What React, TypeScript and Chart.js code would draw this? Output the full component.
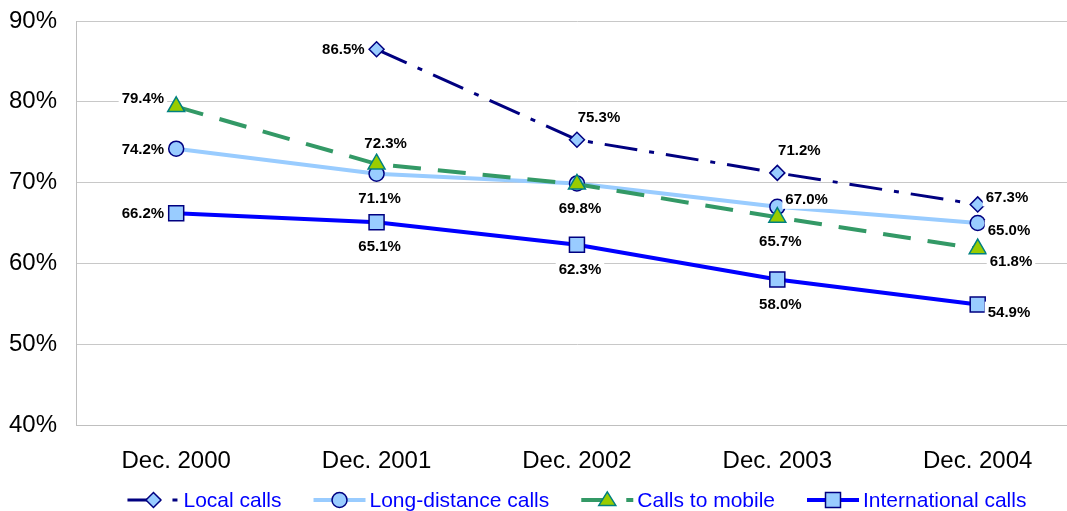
import React, { useEffect, useRef } from 'react';
import { Chart, registerables } from 'chart.js';

Chart.register(...registerables);

// ---- data ----
const categories = ['Dec. 2000', 'Dec. 2001', 'Dec. 2002', 'Dec. 2003', 'Dec. 2004'];
const seriesNames = ['Local calls', 'Long-distance calls', 'Calls to mobile', 'International calls'];
const localCalls = [null, 86.5, 75.3, 71.2, 67.3];
const longDistanceCalls = [74.2, 71.1, 69.9, 67.0, 65.0];
const callsToMobile = [79.4, 72.3, 69.8, 65.7, 61.8];
const internationalCalls = [66.2, 65.1, 62.3, 58.0, 54.9];
const yMin = 40;
const yMax = 90;
const yStep = 10;

// label placement (style config, not data)
const localPlacement = [null, 'left', 'aboveRight', 'aboveRight', 'rightUp'];
const longPlacement = ['left', 'below', null, 'rightUp', 'rightDown'];
const mobilePlacement = ['leftUp', 'above', 'below', 'below', 'rightDown2'];
const intlPlacement = ['left', 'below', 'below', 'below', 'rightDown'];

const FONT = '"Liberation Sans", Arial, sans-serif';

type Marker = { shape: string; r: number; fill: string; stroke: string; bw: number };

const styles = [
  { color: '#000080', width: 3, dash: [33, 12, 5, 12], marker: { shape: 'diamond', r: 7.5, fill: '#99CCFF', stroke: '#000080', bw: 1.5 } },
  { color: '#99CCFF', width: 4, dash: [], marker: { shape: 'circle', r: 7.5, fill: '#99CCFF', stroke: '#000080', bw: 1.5 } },
  { color: '#339966', width: 4, dash: [28, 17], marker: { shape: 'triangle', r: 8.5, fill: '#99CC00', stroke: '#008080', bw: 1.5 } },
  { color: '#0000FF', width: 4, dash: [], marker: { shape: 'square', r: 7.5, fill: '#99CCFF', stroke: '#000080', bw: 1.5 } },
];

function drawMarker(ctx: CanvasRenderingContext2D, m: Marker, x: number, y: number) {
  ctx.save();
  ctx.setLineDash([]);
  ctx.fillStyle = m.fill;
  ctx.strokeStyle = m.stroke;
  ctx.lineWidth = m.bw;
  ctx.beginPath();
  const r = m.r;
  if (m.shape === 'diamond') {
    ctx.moveTo(x, y - r);
    ctx.lineTo(x + r, y);
    ctx.lineTo(x, y + r);
    ctx.lineTo(x - r, y);
    ctx.closePath();
  } else if (m.shape === 'circle') {
    ctx.arc(x, y, r, 0, Math.PI * 2);
  } else if (m.shape === 'triangle') {
    const h = r * 1.6;
    ctx.moveTo(x, y - h * 0.6);
    ctx.lineTo(x + r, y + h * 0.4);
    ctx.lineTo(x - r, y + h * 0.4);
    ctx.closePath();
  } else {
    ctx.rect(x - r, y - r, r * 2, r * 2);
  }
  ctx.fill();
  ctx.stroke();
  ctx.restore();
}

const placements: Record<string, { dx: number; dy: number; align: CanvasTextAlign }> = {
  left: { dx: -12, dy: 0, align: 'right' },
  leftUp: { dx: -12, dy: -9, align: 'right' },
  below: { dx: 3, dy: 24, align: 'center' },
  above: { dx: 9, dy: -21, align: 'center' },
  aboveRight: { dx: 22, dy: -23, align: 'center' },
  rightUp: { dx: 8, dy: -8, align: 'left' },
  rightDown: { dx: 10, dy: 7, align: 'left' },
  rightDown2: { dx: 12, dy: 12, align: 'left' },
};

const allPlacements = [localPlacement, longPlacement, mobilePlacement, intlPlacement];

const markerPlugin = {
  id: 'markersAndLabels',
  afterDatasetsDraw(chart: any) {
    const ctx = chart.ctx as CanvasRenderingContext2D;
    const drawOrder = [3, 1, 2, 0];
    ctx.save();
    ctx.font = `bold 15px ${FONT}`;
    ctx.textBaseline = 'middle';
    drawOrder.forEach((di) => {
      const meta = chart.getDatasetMeta(di);
      const data = chart.data.datasets[di].data;
      meta.data.forEach((pt: any, i: number) => {
        const v = data[i];
        const p = allPlacements[di][i];
        if (v == null || !p) return;
        const pl = placements[p];
        const text = v.toFixed(1) + '%';
        const w = ctx.measureText(text).width;
        const x = pt.x + pl.dx;
        const y = pt.y + pl.dy;
        let left = x;
        if (pl.align === 'right') left = x - w;
        else if (pl.align === 'center') left = x - w / 2;
        ctx.fillStyle = '#FFFFFF';
        ctx.fillRect(left - 3, y - 10, w + 6, 20);
        ctx.fillStyle = '#000000';
        ctx.textAlign = pl.align;
        ctx.fillText(text, x, y + 1);
      });
    });
    ctx.restore();
  },
  afterDraw(chart: any) {
    const ctx = chart.ctx as CanvasRenderingContext2D;
    const area = chart.chartArea;
    ctx.save();
    ctx.font = `21px ${FONT}`;
    ctx.textBaseline = 'middle';
    const sampleW = 52;
    const gapText = 4;
    const itemGap = 32;
    const widths = seriesNames.map((n) => ctx.measureText(n).width);
    const total = widths.reduce((a, b) => a + b, 0) + seriesNames.length * (sampleW + gapText) + (seriesNames.length - 1) * itemGap;
    let x = (area.left + area.right) / 2 - total / 2;
    const y = 500;
    seriesNames.forEach((name, i) => {
      const s = styles[i];
      ctx.save();
      ctx.strokeStyle = s.color;
      ctx.lineWidth = s.width;
      ctx.setLineDash(s.dash);
      ctx.beginPath();
      ctx.moveTo(x, y);
      ctx.lineTo(x + sampleW, y);
      ctx.stroke();
      ctx.restore();
      drawMarker(ctx, s.marker as Marker, x + sampleW / 2, y);
      ctx.fillStyle = '#0000FF';
      ctx.textAlign = 'left';
      ctx.fillText(name, x + sampleW + gapText, y + 1);
      x += sampleW + gapText + widths[i] + itemGap;
    });
    ctx.restore();
  },
};

const seriesData = [localCalls, longDistanceCalls, callsToMobile, internationalCalls];
const orders = [0, 2, 1, 3];

export default function App() {
  const ref = useRef<HTMLCanvasElement>(null);
  useEffect(() => {
    if (!ref.current) return;
    const chart = new Chart(ref.current, {
      type: 'line',
      data: {
        labels: categories,
        datasets: seriesNames.map((name, i) => {
          const s = styles[i];
          const m = s.marker;
          const ps = m.shape === 'diamond' ? 'rectRot' : m.shape === 'square' ? 'rect' : m.shape === 'triangle' ? 'triangle' : 'circle';
          const radius = m.shape === 'square' ? m.r * 1.414 : m.shape === 'triangle' ? m.r * 1.15 : m.r;
          return {
            label: name,
            data: seriesData[i],
            borderColor: s.color,
            borderWidth: s.width,
            borderDash: s.dash,
            backgroundColor: m.fill,
            pointStyle: ps,
            pointRadius: radius,
            pointBackgroundColor: m.fill,
            pointBorderColor: m.stroke,
            pointBorderWidth: m.bw,
            tension: 0,
            spanGaps: false,
            order: orders[i],
            fill: false,
            clip: false,
          } as any;
        }),
      },
      options: {
        animation: false,
        responsive: false,
        devicePixelRatio: 1,
        layout: { padding: { top: 21, left: 0, right: 12, bottom: 0 } },
        plugins: { legend: { display: false }, tooltip: { enabled: false } },
        scales: {
          x: {
            offset: true,
            grid: { display: false, drawTicks: false, tickLength: 0, offset: true },
            border: { display: true, color: '#BFBFBF', width: 1 },
            ticks: { color: '#000000', font: { family: FONT, size: 24 }, padding: 22, maxRotation: 0, autoSkip: false },
            afterFit: (s: any) => { s.height = 86; s.paddingLeft = 0; s.paddingRight = 0; },
          },
          y: {
            min: yMin,
            max: yMax,
            grid: { color: '#C8C8C8', lineWidth: 1, drawTicks: false, tickLength: 0 },
            border: { display: true, color: '#BFBFBF', width: 1 },
            ticks: {
              stepSize: yStep,
              color: '#000000',
              font: { family: FONT, size: 24 },
              padding: 19,
              callback: (v: any) => `${v}%`,
            },
            afterFit: (s: any) => { s.width = 76; s.paddingTop = 0; s.paddingBottom = 0; },
          },
        },
      },
      plugins: [markerPlugin],
    });
    return () => chart.destroy();
  }, []);
  return (
    <div style={{ position: 'fixed', left: 0, top: 0, width: 1067, height: 511, overflow: 'hidden', background: '#FFFFFF' }}>
      <canvas ref={ref} width={1090} height={511} style={{ display: 'block' }} />
    </div>
  );
}
